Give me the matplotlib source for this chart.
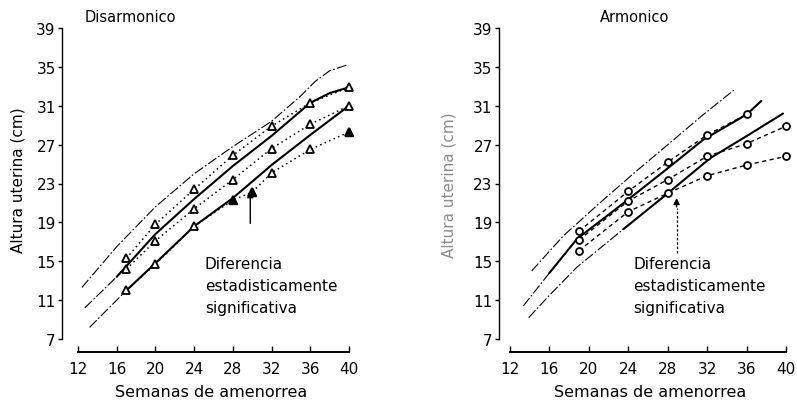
import matplotlib
matplotlib.use('Agg')
import matplotlib.pyplot as plt

plt.rcParams['font.family'] = ['DejaVu Sans']

# --- Disarmonico (left panel) ---
dis_weeks = [17, 20, 24, 28, 32, 36, 40]
dis_a = [15.3, 18.8, 22.4, 25.9, 28.9, 31.3, 32.9]
dis_b = [14.2, 17.1, 20.4, 23.4, 26.6, 29.1, 31.0]
dis_c_weeks = [17, 20, 24, 28, 30, 32, 36, 40]
dis_c = [12.0, 14.7, 18.6, 21.3, 22.1, 24.1, 26.5, 28.3]

dis_up_x = [12.4, 16, 20, 24, 28, 32, 35, 36.5, 38, 39.8]
dis_up_y = [12.3, 16.5, 20.6, 24.0, 26.8, 29.4, 32.0, 33.5, 34.6, 35.2]
dis_mid_x = [12.7, 16, 17, 20, 24, 28, 32, 34, 36, 38, 40]
dis_mid_y = [10.2, 13.4, 14.5, 17.8, 21.4, 24.8, 27.9, 29.6, 31.3, 32.3, 32.9]
dis_low_x = [13.2, 17, 20, 24, 28, 32, 36, 40]
dis_low_y = [8.2, 12.0, 14.8, 18.6, 21.5, 24.9, 28.0, 31.0]

# --- Armonico (right panel) ---
arm_weeks = [19, 24, 28, 32, 36, 40]
arm_a = [18.1, 22.2, 25.2, 28.0, 30.1]
arm_b = [17.2, 21.2, 23.4, 25.8, 27.1, 28.9]
arm_c = [16.1, 20.1, 22.0, 23.8, 24.9, 25.8]

arm_up_x = [14.2, 17.4, 21, 24.5, 28.6, 31.5, 34.7]
arm_up_y = [14.0, 17.6, 20.9, 24.0, 27.5, 30.0, 32.6]
arm_mid_x = [13.35, 16, 18.8, 23.8, 27.8, 31.6, 36, 37.5]
arm_mid_y = [10.4, 13.8, 17.3, 21.2, 24.4, 27.5, 30.1, 31.5]
arm_low_x = [13.9, 16, 18.8, 23.5, 27.9, 32.3, 36.2, 39.7]
arm_low_y = [9.2, 11.5, 14.4, 18.3, 21.9, 25.6, 28.0, 30.2]

xticks = [12, 16, 20, 24, 28, 32, 36, 40]
yticks = [7, 11, 15, 19, 23, 27, 31, 35, 39]

thin = dict(color='black', lw=0.8, linestyle=(0, (9, 2, 1.5, 2)))
thick = dict(color='black', lw=1.5, solid_capstyle='round')
note = "Diferencia\nestadisticamente\nsignificativa"

fig = plt.figure(figsize=(7.97, 4.06), dpi=100)
axL = fig.add_axes([78/797, 66/406, 271/797, 311/406])
axR = fig.add_axes([510/797, 66/406, 276/797, 311/406])

for ax, off in ((axL, 11.5), (axR, 8)):
    ax.set_xlim(12, 40)
    ax.set_ylim(7, 39)
    ax.spines['top'].set_visible(False)
    ax.spines['right'].set_visible(False)
    ax.spines['left'].set_position(('outward', off))
    ax.spines['bottom'].set_position(('outward', 9.5))
    ax.spines['left'].set_linewidth(1.0)
    ax.spines['bottom'].set_linewidth(1.4)
    ax.set_xticks(xticks)
    ax.set_yticks(yticks)
    ax.tick_params(axis='x', direction='in', length=4, width=1, pad=6, labelsize=11)
    ax.tick_params(axis='y', direction='out', length=3, width=1, pad=1.5, labelsize=11)

# left panel curves
axL.plot(dis_up_x, dis_up_y, **thin)
axL.plot(dis_mid_x[:2], dis_mid_y[:2], **thin)
axL.plot(dis_mid_x[1:], dis_mid_y[1:], **thick)
axL.plot(dis_low_x[:2], dis_low_y[:2], **thin)
axL.plot(dis_low_x[1:], dis_low_y[1:], **thick)

tri = dict(color='black', lw=1.1, linestyle=(0, (1, 2.2)), marker='^', markersize=6,
           markerfacecolor='white', markeredgewidth=1.3, clip_on=False)
axL.plot(dis_weeks, dis_a, **tri)
axL.plot(dis_weeks, dis_b, **tri)
axL.plot(dis_c_weeks, dis_c, **tri)
filled = [3, 4, 7]
axL.plot([dis_c_weeks[i] for i in filled], [dis_c[i] for i in filled], 'k^',
         markersize=5.5, clip_on=False)

axL.annotate('', xy=(29.8, 22.5), xytext=(29.8, 18.6),
             arrowprops=dict(arrowstyle='-|>', color='black', lw=1.0, mutation_scale=9))
axL.text(25.1, 15.5, note, va='top', ha='left', fontsize=11, linespacing=1.55)

# right panel curves
axR.plot(arm_up_x, arm_up_y, **thin)
axR.plot(arm_mid_x[:2], arm_mid_y[:2], **thin)
axR.plot(arm_mid_x[1:], arm_mid_y[1:], **thick)
axR.plot(arm_low_x[:4], arm_low_y[:4], **thin)
axR.plot(arm_low_x[3:], arm_low_y[3:], **thick)

circ = dict(color='black', lw=1.0, linestyle=(0, (3, 2.5)), marker='o', markersize=5,
            markerfacecolor='white', markeredgewidth=1.3, clip_on=False)
axR.plot(arm_weeks[:len(arm_a)], arm_a, **circ)
axR.plot(arm_weeks, arm_b, **circ)
axR.plot(arm_weeks, arm_c, **circ)

axR.plot([28.9, 28.9], [15.9, 20.5], color='black', lw=0.9, linestyle=(0, (2, 1.5)))
axR.annotate('', xy=(28.9, 21.8), xytext=(28.9, 20.3),
             arrowprops=dict(arrowstyle='-|>', color='black', lw=1.0, mutation_scale=9))
axR.text(24.5, 15.5, note, va='top', ha='left', fontsize=11, linespacing=1.55)

# titles and labels
fig.text(130/797, 1 - 18/406, 'Disarmonico', ha='center', va='center', fontsize=10.5)
fig.text(635/797, 1 - 18/406, 'Armonico', ha='center', va='center', fontsize=10.5)
fig.text(211/797, 1 - 393/406, 'Semanas de amenorrea', ha='center', va='center', fontsize=11.5)
fig.text(650/797, 1 - 393/406, 'Semanas de amenorrea', ha='center', va='center', fontsize=11.5)
fig.text(18/797, 1 - 180/406, 'Altura uterina (cm)', rotation=90, ha='center', va='center',
         fontsize=11)
fig.text(449/797, 1 - 185/406, 'Altura uterina (cm)', rotation=90, ha='center', va='center',
         fontsize=11, color='0.55')

fig.savefig('out.png', dpi=100)
